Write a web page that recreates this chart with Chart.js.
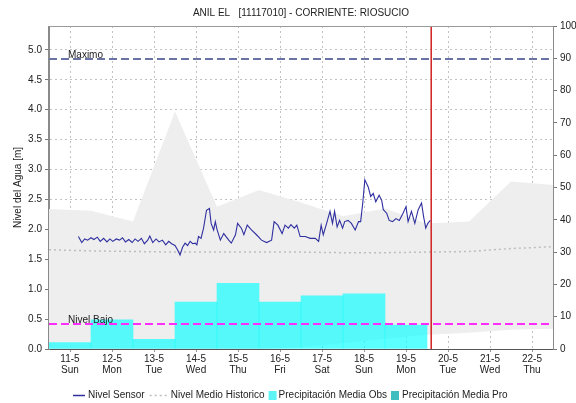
<!DOCTYPE html>
<html>
<head>
<meta charset="utf-8">
<script src="https://cdn.jsdelivr.net/npm/chart.js@4.4.1/dist/chart.umd.min.js"></script>
<style>
html,body{margin:0;padding:0;background:#fff;}
canvas{display:block;}
</style>
</head>
<body>
<canvas id="c" width="576" height="403"></canvas>
<script>
// ---------- DATA ----------
const titleText = 'ANIL EL   [11117010] - CORRIENTE: RIOSUCIO';
const dayLabels = ['11-5','12-5','13-5','14-5','15-5','16-5','17-5','18-5','19-5','20-5','21-5','22-5'];
const weekDays  = ['Sun','Mon','Tue','Wed','Thu','Fri','Sat','Sun','Mon','Tue','Wed','Thu'];

// Nivel Sensor (x in days since 11-5 00:00, level in m)
const sensorDays = [0.70,0.78,0.85,0.92,1.00,1.07,1.15,1.22,1.30,1.38,1.45,1.52,1.60,1.68,1.75,1.82,1.90,1.98,2.05,2.12,2.20,2.27,2.35,2.40,2.47,2.55,2.62,2.70,2.78,2.85,2.92,3.00,3.06,3.12,3.18,3.24,3.30,3.36,3.42,
  3.48,3.52,3.56,3.62,3.68,3.75,3.82,3.86,3.92,3.96,4.00,4.08,4.16,4.28,4.34,4.44,4.49,4.58,4.64,4.72,4.82,4.94,5.06,5.18,5.30,5.36,5.45,5.55,5.62,5.70,5.76,5.84,5.90,5.98,6.10,6.22,6.34,6.42,6.48,
  6.53,6.61,6.69,6.75,6.80,6.86,6.92,6.99,7.04,7.12,7.20,7.29,7.37,7.42,7.47,7.52,7.60,7.66,7.72,7.78,7.86,7.92,7.96,8.04,8.10,8.18,8.26,8.34,8.43,8.50,8.55,8.63,8.71,8.79,8.87,8.92,8.97,9.02,9.08];
const sensorLevel = [1.88,1.78,1.84,1.82,1.86,1.83,1.87,1.80,1.85,1.79,1.84,1.80,1.84,1.82,1.86,1.79,1.83,1.78,1.84,1.80,1.85,1.76,1.82,1.89,1.78,1.84,1.79,1.82,1.74,1.80,1.76,1.73,1.66,1.57,1.70,1.77,1.73,1.80,1.76,
  1.77,1.74,1.88,1.85,2.02,2.32,2.35,2.10,1.99,2.13,2.00,1.82,1.93,1.82,1.77,1.91,2.10,2.02,1.91,2.07,1.99,1.91,1.82,1.78,1.82,2.13,2.07,1.93,2.07,2.02,2.08,2.02,2.07,1.88,1.88,1.85,1.85,1.80,2.07,
  1.91,2.10,2.30,2.10,2.30,2.04,2.15,2.02,2.13,2.15,2.10,1.99,2.13,2.13,2.44,2.83,2.71,2.55,2.60,2.46,2.57,2.49,2.33,2.27,2.15,2.13,2.18,2.15,2.27,2.38,2.13,2.30,2.10,2.33,2.44,2.21,2.02,2.10,2.15];

// Historic values (daily, days 0..12)
const histDays = [0,1,2,3,4,5,6,7,8,9,10,11,12];
const histMean = [1.66,1.64,1.63,1.62,1.62,1.62,1.62,1.61,1.61,1.62,1.63,1.68,1.71];
const histMax  = [2.34,2.31,2.13,3.97,2.38,2.66,2.45,2.22,2.35,2.10,2.13,2.80,2.74];
const histMin  = [0.00,0.00,0.00,0.00,0.00,0.00,0.03,0.10,0.17,0.24,0.27,0.32,0.34];

// Precipitation (mm) per day, right axis
const precipObs = [1.95,9.0,3.0,14.5,20.3,14.5,16.5,17.1,7.4];
const precipPro = [];

const nivelMaximo = 4.85;
const nivelBajo = 0.42;
const currentDay = 9.1;

// ---------- COLORS ----------
const cSensor = '#2F2FA0';
const cMean = '#BDBDBD';
const cBand = '#EEEEEE';
const cObs = 'rgba(0,255,255,0.64)';
const cObsLegend = '#5CF4F4';
const cPro = '#3DBDBD';
const cMax = '#6B73A6';
const cBajo = '#FF2EFF';
const cNow = '#D02020';
const cGrid = '#c2c2c2';
const FONT = '"Liberation Sans", Arial, sans-serif';

const pts = (xs, ys) => xs.map((x, i) => ({x: x, y: ys[i]}));

const textPlugin = {
  id: 'texts',
  afterDraw(chart) {
    const ctx = chart.ctx, ca = chart.chartArea, ys = chart.scales.y;
    ctx.save();
    ctx.setLineDash([]);
    // plot frame
    ctx.strokeStyle = '#9a9a9a'; ctx.lineWidth = 1;
    ctx.beginPath(); ctx.moveTo(ca.left, ca.top + 0.5); ctx.lineTo(ca.right, ca.top + 0.5); ctx.stroke();
    ctx.strokeStyle = '#8a8a8a';
    ctx.beginPath(); ctx.moveTo(ca.left - 0.5, ca.top); ctx.lineTo(ca.left - 0.5, ca.bottom); ctx.stroke();
    ctx.beginPath(); ctx.moveTo(ca.right + 0.5, ca.top); ctx.lineTo(ca.right + 0.5, ca.bottom); ctx.stroke();
    // title
    ctx.fillStyle = '#222';
    ctx.font = '10px ' + FONT; ctx.textAlign = 'center'; ctx.textBaseline = 'middle';
    ctx.fillText(titleText, (ca.left + ca.right) / 2, 13);
    // level labels
    ctx.font = '10px ' + FONT; ctx.textAlign = 'left'; ctx.textBaseline = 'alphabetic';
    ctx.fillText('Maximo', 68, ys.getPixelForValue(nivelMaximo) - 1);
    ctx.fillText('Nivel Bajo', 68, ys.getPixelForValue(nivelBajo) - 1);
    // y title
    ctx.save();
    ctx.translate(18, (ca.top + ca.bottom) / 2);
    ctx.rotate(-Math.PI / 2);
    ctx.textAlign = 'center'; ctx.textBaseline = 'middle';
    ctx.fillText('Nivel del Agua [m]', 0, 0);
    ctx.restore();
    // legend
    const ly = 395;
    let x = 73;
    ctx.textBaseline = 'middle'; ctx.textAlign = 'left';
    ctx.strokeStyle = cSensor; ctx.lineWidth = 1.5;
    ctx.beginPath(); ctx.moveTo(x, ly + 0.5); ctx.lineTo(x + 12, ly + 0.5); ctx.stroke();
    x += 15; ctx.fillText('Nivel Sensor', x, ly); x += ctx.measureText('Nivel Sensor').width + 5;
    ctx.strokeStyle = cMean; ctx.lineWidth = 1.5; ctx.setLineDash([2, 3]);
    ctx.beginPath(); ctx.moveTo(x, ly + 0.5); ctx.lineTo(x + 17, ly + 0.5); ctx.stroke();
    ctx.setLineDash([]);
    x += 21; ctx.fillText('Nivel Medio Historico', x, ly); x += ctx.measureText('Nivel Medio Historico').width + 4;
    ctx.fillStyle = cObsLegend; ctx.fillRect(x, ly - 4, 8, 9);
    x += 10; ctx.fillStyle = '#222'; ctx.fillText('Precipitación Media Obs', x, ly); x += ctx.measureText('Precipitación Media Obs').width + 4;
    ctx.fillStyle = cPro; ctx.fillRect(x, ly - 4, 8, 9);
    x += 11; ctx.fillStyle = '#222'; ctx.fillText('Precipitación Media Pro', x, ly);
    ctx.restore();
  }
};

new Chart(document.getElementById('c'), {
  type: 'line',
  data: {
    datasets: [
      { label: 'min', data: pts(histDays, histMin), yAxisID: 'y', borderWidth: 0, pointRadius: 0, fill: false, order: 20, borderColor: 'rgba(0,0,0,0)' },
      { label: 'max', data: pts(histDays, histMax), yAxisID: 'y', borderWidth: 0, pointRadius: 0, fill: '-1', backgroundColor: cBand, order: 19, borderColor: 'rgba(0,0,0,0)' },
      { type: 'bar', label: 'Precipitación Media Obs', data: precipObs.map((v, i) => ({x: i + 0.5, y: v})), yAxisID: 'y1', backgroundColor: cObs, borderWidth: 0, barPercentage: 1, categoryPercentage: 1, grouped: false, order: 10 },
      { type: 'bar', label: 'Precipitación Media Pro', data: precipPro.map((v, i) => ({x: i + 9.5, y: v})), yAxisID: 'y1', backgroundColor: cPro, borderWidth: 0, barPercentage: 1, categoryPercentage: 1, grouped: false, order: 9 },
      { label: 'Nivel Medio Historico', data: pts(histDays, histMean), yAxisID: 'y', borderColor: cMean, borderWidth: 1.5, borderDash: [2, 3], pointRadius: 0, fill: false, order: 6 },
      { label: 'Maximo', data: [{x: 0, y: nivelMaximo}, {x: 12, y: nivelMaximo}], yAxisID: 'y', borderColor: cMax, borderWidth: 2, borderDash: [8, 4], pointRadius: 0, fill: false, order: 5 },
      { label: 'Nivel Bajo', data: [{x: 0, y: nivelBajo}, {x: 12, y: nivelBajo}], yAxisID: 'y', borderColor: cBajo, borderWidth: 2, borderDash: [8, 4], pointRadius: 0, fill: false, order: 4 },
      { label: 'Ahora', data: [{x: currentDay, y: 0}, {x: currentDay, y: 5.4}], yAxisID: 'y', borderColor: cNow, borderWidth: 1.5, pointRadius: 0, fill: false, order: 3 },
      { label: 'Nivel Sensor', data: pts(sensorDays, sensorLevel), yAxisID: 'y', borderColor: cSensor, borderWidth: 1.1, pointRadius: 0, fill: false, tension: 0, order: 2 }
    ]
  },
  options: {
    responsive: false,
    animation: false,
    devicePixelRatio: 1,
    layout: { padding: { top: 26, left: 0, right: 0, bottom: 0 } },
    plugins: { legend: { display: false }, title: { display: false }, tooltip: { enabled: false } },
    scales: {
      x: {
        type: 'linear', min: 0, max: 12, offset: false, z: 1,
        afterBuildTicks(s) { s.ticks = dayLabels.map((l, i) => ({value: i + 0.5})); },
        afterFit(s) { s.height = 54; },
        ticks: {
          autoSkip: false, maxRotation: 0, padding: 2, color: '#222',
          font: { family: FONT, size: 10, lineHeight: 1.1 },
          callback(v) { const i = Math.round(v - 0.5); return [dayLabels[i], weekDays[i]]; }
        },
        grid: { color: cGrid, tickLength: 3, tickColor: '#999', offset: false },
        border: { color: '#555', dash: [2, 3] }
      },
      y: {
        type: 'linear', position: 'left', min: 0, max: 5.4, z: 1,
        afterBuildTicks(s) { const t = []; for (let v = 0; v <= 5.0001; v += 0.5) t.push({value: Math.round(v * 10) / 10}); s.ticks = t; },
        afterFit(s) { s.width = 49; },
        ticks: { padding: 3, color: '#222', font: { family: FONT, size: 10 }, callback(v) { return v.toFixed(1); } },
        grid: { color: cGrid, tickLength: 4, tickColor: '#777' },
        border: { color: '#8a8a8a', dash: [2, 3] }
      },
      y1: {
        type: 'linear', position: 'right', min: 0, max: 100,
        afterBuildTicks(s) { const t = []; for (let v = 0; v <= 100; v += 10) t.push({value: v}); s.ticks = t; },
        afterFit(s) { s.width = 23; },
        ticks: { padding: 3, color: '#222', font: { family: FONT, size: 10 } },
        grid: { drawOnChartArea: false, tickLength: 4, tickColor: '#777' },
        border: { color: '#8a8a8a' }
      }
    }
  },
  plugins: [textPlugin]
});
</script>
</body>
</html>
